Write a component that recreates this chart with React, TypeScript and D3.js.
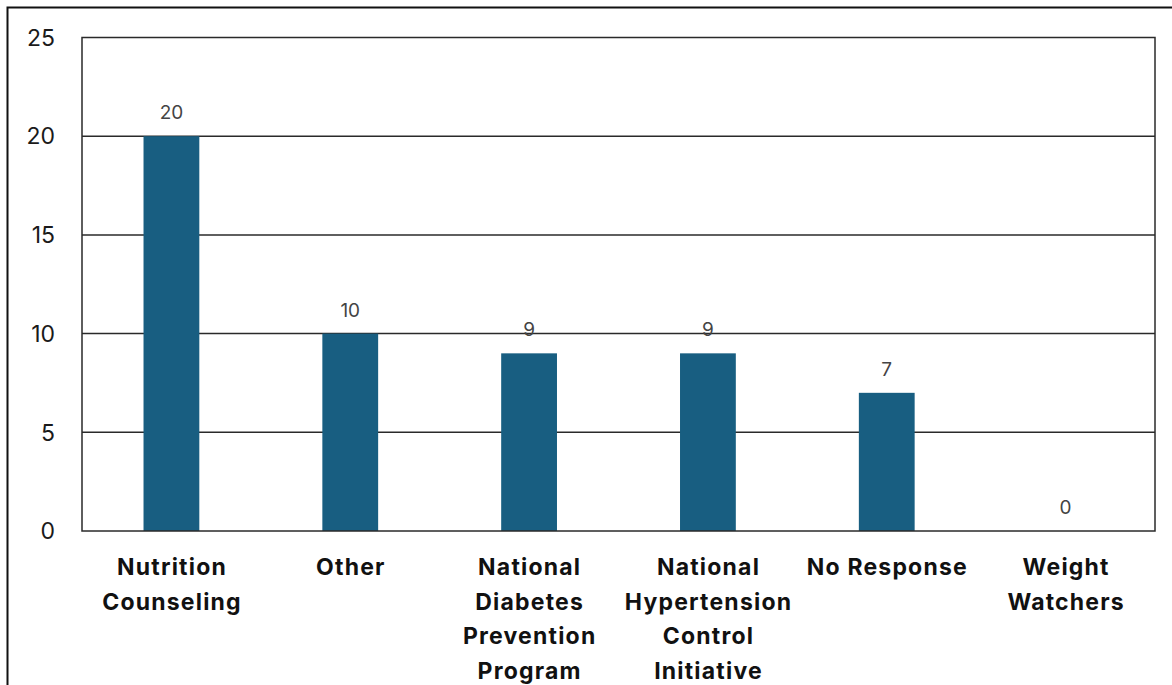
import React, {useEffect, useRef} from "react";
import * as d3 from "d3";

// chart data
const categories = [
    "Nutrition Counseling",
    "Other",
    "National Diabetes Prevention Program",
    "National Hypertension Control Initiative",
    "No Response",
    "Weight Watchers",
];
const labelLines = [
    ["Nutrition", "Counseling"],
    ["Other"],
    ["National", "Diabetes", "Prevention", "Program"],
    ["National", "Hypertension", "Control", "Initiative"],
    ["No Response"],
    ["Weight", "Watchers"],
];
const counts = [20, 10, 9, 9, 7, 0];
const yTicks = [0, 5, 10, 15, 20, 25];

const App = () => {

    const ref = useRef(null);

    useEffect(() => {
        const svg = d3.select(ref.current);
        svg.selectAll("*").remove();

        const width = 1172;
        const height = 685;
        const margin = {top: 37.5, right: 17, bottom: 154, left: 82};
        const font = "Inter, 'Open Sans', sans-serif";

        // outer frame (right/bottom run off the picture)
        svg.append("rect")
            .attr("x", 7.5)
            .attr("y", 7.5)
            .attr("width", width + 20)
            .attr("height", height + 20)
            .attr("fill", "white")
            .attr("stroke", "#111")
            .attr("stroke-width", 2);

        const x = d3.scaleBand()
            .domain(categories)
            .range([margin.left, width - margin.right])
            .padding(0);

        const y = d3.scaleLinear()
            .domain([0, 25])
            .range([height - margin.bottom, margin.top]);

        const barW = x.bandwidth() * 0.312;

        // grid lines
        svg.append("g")
            .selectAll("line")
            .data(yTicks.filter(t => t > 0 && t < 25))
            .enter()
            .append("line")
            .attr("x1", margin.left)
            .attr("x2", width - margin.right)
            .attr("y1", d => y(d))
            .attr("y2", d => y(d))
            .attr("stroke", "#2a2a2a")
            .attr("stroke-width", 1.5);

        // bars
        svg.append("g")
            .selectAll("rect")
            .data(counts)
            .enter()
            .append("rect")
            .attr("x", (d, i) => x(categories[i]) + x.bandwidth() / 2 - barW / 2)
            .attr("y", d => y(d))
            .attr("width", barW)
            .attr("height", d => y(0) - y(d))
            .attr("fill", "#185e81");

        // plot border
        svg.append("rect")
            .attr("x", margin.left)
            .attr("y", y(25))
            .attr("width", width - margin.right - margin.left)
            .attr("height", y(0) - y(25))
            .attr("fill", "none")
            .attr("stroke", "#2a2a2a")
            .attr("stroke-width", 1.5);

        // value labels
        svg.append("g")
            .selectAll("text")
            .data(counts)
            .enter()
            .append("text")
            .attr("x", (d, i) => x(categories[i]) + x.bandwidth() / 2)
            .attr("y", d => y(d) - 17)
            .attr("text-anchor", "middle")
            .style("font-family", font)
            .style("font-size", "19px")
            .attr("fill", "#444")
            .text(d => d);

        // y tick labels
        svg.append("g")
            .selectAll("text")
            .data(yTicks)
            .enter()
            .append("text")
            .attr("x", 55)
            .attr("y", d => y(d))
            .attr("dy", "0.36em")
            .attr("text-anchor", "end")
            .style("font-family", font)
            .style("font-size", "23px")
            .attr("fill", "#1a1a1a")
            .text(d => d);

        // x category labels
        const xl = svg.append("g")
            .selectAll("text")
            .data(labelLines)
            .enter()
            .append("text")
            .attr("x", (d, i) => x(categories[i]) + x.bandwidth() / 2)
            .attr("y", 575)
            .attr("text-anchor", "middle")
            .style("font-family", font)
            .style("font-size", "23px")
            .style("font-weight", 700)
            .style("letter-spacing", "1.2px")
            .attr("fill", "#111");

        xl.selectAll("tspan")
            .data((d, i) => d.map(s => ({s, i})))
            .enter()
            .append("tspan")
            .attr("x", d => x(categories[d.i]) + x.bandwidth() / 2 + 0.6)
            .attr("dy", (d, j) => j === 0 ? 0 : 34.5)
            .text(d => d.s);

    }, []);

    return (
        <svg ref={ref} width="1172" height="685"
             style={{position: "absolute", left: 0, top: 0, display: "block"}}></svg>
    )
}

export default App;
